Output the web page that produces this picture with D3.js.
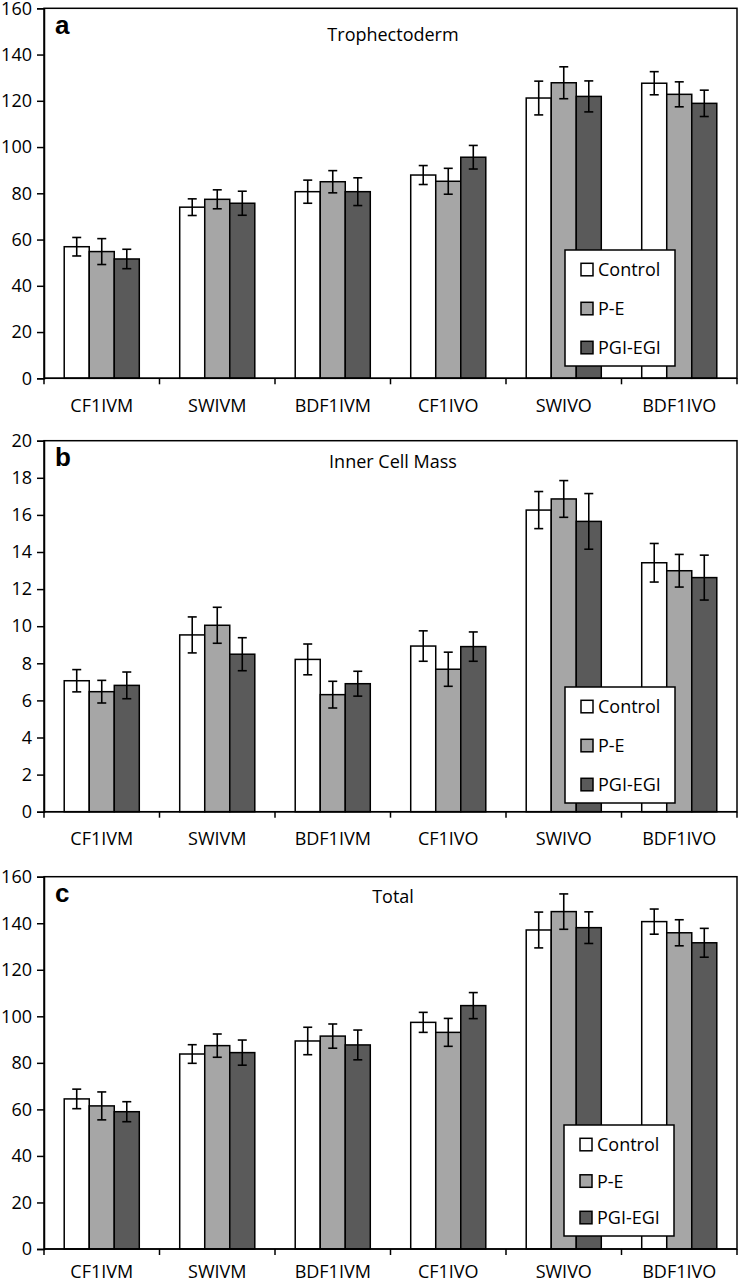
<!DOCTYPE html>
<html>
<head>
<meta charset="utf-8">
<script src="https://cdn.jsdelivr.net/npm/d3@7"></script>
<style>
  html, body { margin: 0; padding: 0; background: #fff; }
  svg { display: block; }
</style>
</head>
<body>
<svg id="chart" width="742" height="1283"></svg>
<script>
// ---- Data ----
const categories = ["CF1IVM", "SWIVM", "BDF1IVM", "CF1IVO", "SWIVO", "BDF1IVO"];
const seriesNames = ["Control", "P-E", "PGI-EGI"];

// Trophectoderm
const tropControl = [56.9, 74.0, 80.7, 87.9, 121.2, 127.6];
const tropControlErr = [4.0, 3.6, 5.0, 4.1, 7.3, 5.0];
const tropPE = [54.8, 77.4, 85.0, 85.2, 127.8, 122.8];
const tropPEErr = [5.6, 4.1, 4.8, 5.6, 6.9, 5.4];
const tropPGI = [51.6, 75.7, 80.7, 95.6, 121.9, 118.9];
const tropPGIErr = [4.2, 5.2, 6.0, 5.1, 6.7, 5.7];

// Inner Cell Mass
const icmControl = [7.06, 9.53, 8.21, 8.93, 16.26, 13.42];
const icmControlErr = [0.60, 0.97, 0.83, 0.82, 1.00, 1.04];
const icmPE = [6.47, 10.05, 6.31, 7.68, 16.86, 12.99];
const icmPEErr = [0.61, 0.97, 0.72, 0.92, 0.99, 0.88];
const icmPGI = [6.81, 8.49, 6.90, 8.90, 15.65, 12.62];
const icmPGIErr = [0.72, 0.89, 0.67, 0.79, 1.50, 1.21];

// Total
const totControl = [64.5, 83.8, 89.4, 97.4, 137.1, 140.7];
const totControlErr = [4.2, 4.0, 5.9, 4.3, 7.7, 5.4];
const totPE = [61.5, 87.4, 91.5, 93.1, 145.0, 135.9];
const totPEErr = [6.0, 5.0, 5.2, 6.0, 7.6, 5.6];
const totPGI = [59.0, 84.4, 87.7, 104.6, 138.1, 131.6];
const totPGIErr = [4.3, 5.4, 6.4, 5.6, 6.8, 6.2];

const tropTicks = [0, 20, 40, 60, 80, 100, 120, 140, 160];
const icmTicks = [0, 2, 4, 6, 8, 10, 12, 14, 16, 18, 20];
const totTicks = [0, 20, 40, 60, 80, 100, 120, 140, 160];

const fills = ["#ffffff", "#a6a6a6", "#5a5a5a"];

// ---- Panels ----
const panels = [
  { label: "a", title: "Trophectoderm", top: 8.3, bottom: 378.3, max: 160, ticks: tropTicks,
    values: [tropControl, tropPE, tropPGI], errs: [tropControlErr, tropPEErr, tropPGIErr],
    titleY: 41, catY: 412, legend: { x: 565, y: 250, w: 110, h: 116 } },
  { label: "b", title: "Inner Cell Mass", top: 440.7, bottom: 811.7, max: 20, ticks: icmTicks,
    values: [icmControl, icmPE, icmPGI], errs: [icmControlErr, icmPEErr, icmPGIErr],
    titleY: 467.5, catY: 845, legend: { x: 565, y: 687, w: 110, h: 116 } },
  { label: "c", title: "Total", top: 876.7, bottom: 1249, max: 160, ticks: totTicks,
    values: [totControl, totPE, totPGI], errs: [totControlErr, totPEErr, totPGIErr],
    titleY: 903.3, catY: 1277.5, legend: { x: 564, y: 1125, w: 110, h: 111 } }
];

const svg = d3.select("#chart");
const FONT = "'Open Sans', 'DejaVu Sans', sans-serif";
const left = 44, right = 737;

const x0 = d3.scaleBand().domain(categories).range([left, right]).paddingInner(0).paddingOuter(0);
const groupW = x0.bandwidth() * 0.65;
const x1 = d3.scaleBand().domain(seriesNames)
  .range([(x0.bandwidth() - groupW) / 2, (x0.bandwidth() + groupW) / 2]);

panels.forEach(p => {
  const g = svg.append("g");
  const y = d3.scaleLinear().domain([0, p.max]).range([p.bottom, p.top]);

  // bars
  seriesNames.forEach((s, si) => {
    const data = categories.map((c, ci) => ({ c, v: p.values[si][ci], e: p.errs[si][ci] }));
    g.selectAll(null).data(data).enter().append("rect")
      .attr("x", d => x0(d.c) + x1(s))
      .attr("y", d => y(d.v))
      .attr("width", x1.bandwidth())
      .attr("height", d => y(0) - y(d.v))
      .attr("fill", fills[si])
      .attr("stroke", "#000")
      .attr("stroke-width", 1.5);
  });

  // error bars
  seriesNames.forEach((s, si) => {
    const data = categories.map((c, ci) => ({ c, v: p.values[si][ci], e: p.errs[si][ci] }));
    const cx = d => x0(d.c) + x1(s) + x1.bandwidth() / 2;
    const eg = g.selectAll(null).data(data).enter().append("g");
    eg.append("line").attr("x1", cx).attr("x2", cx)
      .attr("y1", d => y(d.v + d.e)).attr("y2", d => y(d.v - d.e))
      .attr("stroke", "#000").attr("stroke-width", 1.6);
    eg.append("line").attr("x1", d => cx(d) - 4.5).attr("x2", d => cx(d) + 4.5)
      .attr("y1", d => y(d.v + d.e)).attr("y2", d => y(d.v + d.e))
      .attr("stroke", "#000").attr("stroke-width", 1.6);
    eg.append("line").attr("x1", d => cx(d) - 4.5).attr("x2", d => cx(d) + 4.5)
      .attr("y1", d => y(d.v - d.e)).attr("y2", d => y(d.v - d.e))
      .attr("stroke", "#000").attr("stroke-width", 1.6);
  });

  // frame
  g.append("rect").attr("x", left).attr("y", p.top)
    .attr("width", right - left).attr("height", p.bottom - p.top)
    .attr("fill", "none").attr("stroke", "#000").attr("stroke-width", 1.5);

  // y axis
  const yAxis = d3.axisLeft(y).tickValues(p.ticks).tickSize(7).tickPadding(5).tickFormat(d3.format("d"));
  const ya = g.append("g").attr("transform", `translate(${left},0)`).call(yAxis);
  ya.select(".domain").attr("stroke", "#000").attr("stroke-width", 1.5);
  ya.selectAll(".tick line").attr("stroke", "#000").attr("stroke-width", 1.5);
  ya.selectAll(".tick text").attr("font-family", FONT).attr("font-size", 18).attr("fill", "#000");

  // x axis with ticks at band boundaries
  const xa = g.append("g").attr("transform", `translate(0,${p.bottom})`);
  xa.append("line").attr("x1", left).attr("x2", right).attr("y1", 0).attr("y2", 0)
    .attr("stroke", "#000").attr("stroke-width", 1.5);
  const bounds = categories.map(c => x0(c)).concat([right]);
  xa.selectAll(null).data(bounds).enter().append("line")
    .attr("x1", d => d).attr("x2", d => d).attr("y1", 0).attr("y2", 6)
    .attr("stroke", "#000").attr("stroke-width", 1.5);
  g.selectAll(null).data(categories).enter().append("text")
    .attr("x", d => x0(d) + x0.bandwidth() / 2)
    .attr("y", p.catY)
    .attr("text-anchor", "middle")
    .attr("font-family", FONT).attr("font-size", 18).attr("fill", "#000")
    .text(d => d);

  // panel label and title
  g.append("text").attr("x", 55).attr("y", p.top + 25.5)
    .attr("font-family", "'Liberation Sans', Arial, sans-serif").attr("font-weight", "bold")
    .attr("font-size", 26).attr("fill", "#000").text(p.label);
  g.append("text").attr("x", 393).attr("y", p.titleY).attr("text-anchor", "middle")
    .attr("font-family", FONT).attr("font-size", 18).attr("fill", "#000").text(p.title);

  // legend
  const L = p.legend;
  const lg = g.append("g").attr("transform", `translate(${L.x},${L.y})`);
  lg.append("rect").attr("width", L.w).attr("height", L.h)
    .attr("fill", "#fff").attr("stroke", "#000").attr("stroke-width", 1.5);
  const step = (L.h - 38) / 2;
  seriesNames.forEach((s, si) => {
    const yy = 13.3 + si * step;
    lg.append("rect").attr("x", 16).attr("y", yy).attr("width", 12).attr("height", 12.5)
      .attr("fill", fills[si]).attr("stroke", "#000").attr("stroke-width", 1.5);
    lg.append("text").attr("x", 33).attr("y", yy + 12.7)
      .attr("font-family", FONT).attr("font-size", 18).attr("fill", "#000").text(s);
  });
});
</script>
</body>
</html>
